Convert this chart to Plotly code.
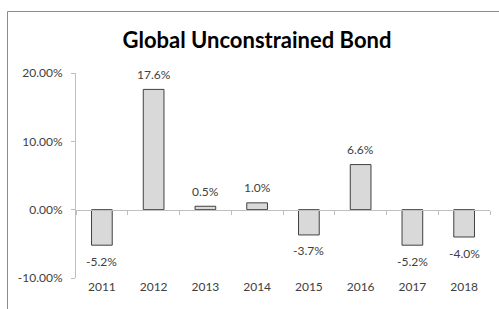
import plotly.graph_objects as go

years = ["2011", "2012", "2013", "2014", "2015", "2016", "2017", "2018"]
returns = [-5.2, 17.6, 0.5, 1.0, -3.7, 6.6, -5.2, -4.0]
y_ticks = [-10, 0, 10, 20]
y_tick_labels = ["-10.00%", "0.00%", "10.00%", "20.00%"]

W, H = 499, 309
ML, MR, MT, MB = 76, 9, 73, 31
PW, PH = W - ML - MR, H - MT - MB

xs = list(range(len(years)))
ymin, ymax = -10, 20

fig = go.Figure()
fig.add_trace(go.Bar(
    x=xs, y=returns,
    marker=dict(color="#d9d9d9", line=dict(color="#404040", width=1)),
    showlegend=False,
    hoverinfo="skip",
))

# invisible trace to activate xaxis2 for ticks on the zero line
fig.add_trace(go.Scatter(x=[-0.5, len(years) - 0.5], y=[0, 0], xaxis="x2",
                         mode="lines", line=dict(width=0), showlegend=False,
                         hoverinfo="skip"))

for xi, v in zip(xs, returns):
    fig.add_annotation(x=xi, y=v, xref="x", yref="y", text=f"{v:.1f}%",
                       showarrow=False, yanchor="middle",
                       yshift=15 if v >= 0 else -16,
                       font=dict(family="Lato", size=12, color="#404040"))

zero_pos = (0 - ymin) / (ymax - ymin)

fig.update_layout(
    width=W, height=H,
    margin=dict(l=ML, r=MR, t=MT, b=MB, pad=0),
    paper_bgcolor="white", plot_bgcolor="white",
    bargap=0.6,
    title=dict(text="<b>Global Unconstrained Bond</b>", x=257 / W, xanchor="center",
               y=1 - 40 / H, yanchor="middle", yref="container",
               font=dict(family="Lato", size=22, color="#000000")),
    xaxis=dict(range=[-0.5, len(years) - 0.5], tickvals=xs, ticktext=years,
               showline=False, showgrid=False, zeroline=False, ticks="",
               automargin=False,
               tickfont=dict(family="Lato", size=12, color="#404040")),
    xaxis2=dict(range=[-0.5, len(years) - 0.5], overlaying="x", anchor="free",
                position=zero_pos, side="bottom", automargin=False,
                tickvals=[i - 0.5 for i in range(len(years) + 1)],
                ticks="outside", ticklen=4, tickcolor="#bfbfbf",
                showticklabels=False, showline=True, linecolor="#bfbfbf",
                linewidth=1, showgrid=False, zeroline=False),
    yaxis=dict(range=[ymin, ymax], tickvals=y_ticks, ticktext=y_tick_labels,
               showline=True, linecolor="#bfbfbf", linewidth=1,
               ticks="outside", ticklen=4, tickcolor="#bfbfbf", automargin=False,
               showgrid=False, zeroline=False, ticklabelstandoff=6,
               tickfont=dict(family="Lato", size=12, color="#404040")),
    shapes=[dict(type="rect", xref="paper", yref="paper",
                 x0=(7.5 - ML) / PW, x1=(W + 10 - ML) / PW,
                 y0=-(MB + 10) / PH, y1=1 + (MT - 11.5) / PH,
                 line=dict(color="#8c8c8c", width=1), fillcolor="rgba(0,0,0,0)",
                 layer="below")],
)

fig.write_html("out.html", config={"displayModeBar": False, "staticPlot": True})
with open("out.html", "r", encoding="utf-8") as f:
    html = f.read()
html = html.replace("<head>", "<head><style>html,body{margin:0;padding:0;overflow:hidden}</style>", 1)
with open("out.html", "w", encoding="utf-8") as f:
    f.write(html)
